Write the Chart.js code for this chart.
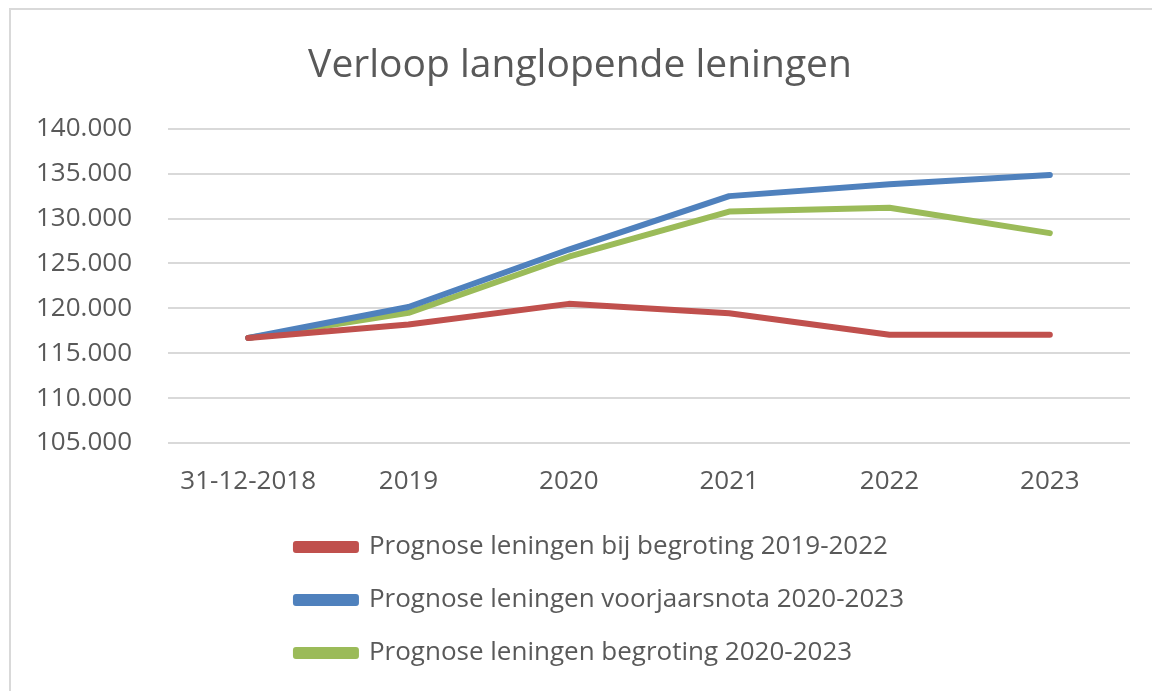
<!DOCTYPE html>
<html>
<head>
<meta charset="utf-8">
<script src="https://cdn.jsdelivr.net/npm/chart.js@4/dist/chart.umd.min.js"></script>
<style>
    html, body { margin: 0; padding: 0; background: #fff; }
    #wrap { position: relative; width: 1152px; height: 691px; overflow: hidden; }
    #frame { position: absolute; left: 9px; top: 8px; width: 1200px; height: 800px; border-left: 2px solid #d9d9d9; border-top: 2px solid #d9d9d9; }
    canvas { position: absolute; left: 0; top: 0; }
</style>
</head>
<body>
<div id="wrap">
    <div id="frame"></div>
    <canvas id="chart" width="1152" height="691"></canvas>
</div>
<script>
// Verloop langlopende leningen
const categories = ['31-12-2018', '2019', '2020', '2021', '2022', '2023'];
const begroting2019 = [116700, 118200, 120500, 119450, 117050, 117050];
const voorjaarsnota2020 = [116700, 120150, 126550, 132500, 133820, 134850];
const begroting2020 = [116700, 119500, 125750, 130780, 131200, 128380];
const seriesNames = [
    'Prognose leningen bij begroting 2019-2022',
    'Prognose leningen voorjaarsnota 2020-2023',
    'Prognose leningen begroting 2020-2023'
];
const seriesColors = ['#C0504D', '#4F81BD', '#9BBB59'];
const yTicks = [105000, 110000, 115000, 120000, 125000, 130000, 135000, 140000];

const fontFamily = "'Open Sans', 'Liberation Sans', sans-serif";
const textColor = '#595959';

function formatNL(v) {
    return String(Math.round(v)).replace(/\B(?=(\d{3})+(?!\d))/g, '.');
}

// left-align the stacked legend rows (Excel style), nudged a bit to the right
const legendLeftAlign = {
    id: 'legendLeftAlign',
    beforeDraw(chart) {
        const lg = chart.legend;
        if (!lg || !lg.lineWidths) return;
        if (!lg._origWidths) lg._origWidths = lg.lineWidths.slice();
        const m = Math.max(...lg._origWidths);
        lg.lineWidths = lg._origWidths.map(() => m - 40);
    },
    afterUpdate(chart) {
        if (chart.legend) chart.legend._origWidths = null;
    }
};

const seriesData = [begroting2019, voorjaarsnota2020, begroting2020];

new Chart(document.getElementById('chart'), {
    type: 'line',
    data: {
        labels: categories,
        datasets: seriesData.map((d, i) => ({
            label: seriesNames[i],
            data: d,
            borderColor: seriesColors[i],
            backgroundColor: seriesColors[i],
            borderWidth: 6,
            pointRadius: 0,
            tension: 0,
            borderCapStyle: 'round',
            borderJoinStyle: 'round'
        }))
    },
    plugins: [legendLeftAlign],
    options: {
        responsive: false,
        animation: false,
        layout: { padding: { left: 30, right: 22, top: 30, bottom: 15 } },
        plugins: {
            title: {
                display: true,
                text: 'Verloop langlopende leningen',
                color: textColor,
                font: { family: fontFamily, size: 39, weight: 'normal' },
                padding: { top: 12, bottom: 40 }
            },
            legend: {
                position: 'bottom',
                labels: {
                    color: textColor,
                    font: { family: fontFamily, size: 26 },
                    boxWidth: 60,
                    boxHeight: 6,
                    padding: 27
                }
            },
            tooltip: { enabled: false }
        },
        scales: {
            x: {
                offset: true,
                grid: { display: false, drawTicks: false },
                border: { display: false },
                afterFit: axis => { axis.height = 64; },
                ticks: {
                    color: textColor,
                    font: { family: fontFamily, size: 26 },
                    padding: 23,
                    maxRotation: 0
                }
            },
            y: {
                min: yTicks[0],
                max: yTicks[yTicks.length - 1],
                afterBuildTicks: axis => { axis.ticks = yTicks.map(v => ({ value: v })); },
                afterFit: axis => { axis.width = 138; },
                grid: { color: '#d9d9d9', lineWidth: 2, drawTicks: false },
                border: { display: false },
                ticks: {
                    color: textColor,
                    font: { family: fontFamily, size: 26 },
                    padding: 36,
                    callback: v => formatNL(v)
                }
            }
        }
    }
});
</script>
</body>
</html>
